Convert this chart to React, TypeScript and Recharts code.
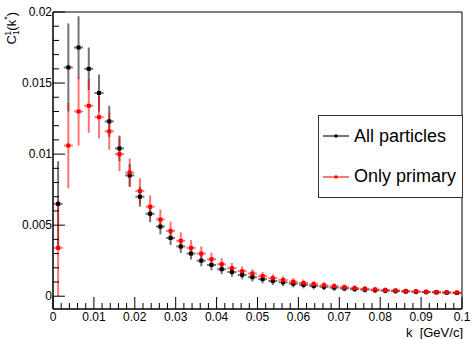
import React from "react";
import {
  ComposedChart,
  Scatter,
  ErrorBar,
  XAxis,
  YAxis,
  ReferenceArea,
  Legend,
} from "recharts";

// bin centres in k* [GeV/c]
const kCenters = [
  0.00125, 0.00375, 0.00625, 0.00875, 0.01125, 0.01375, 0.01625, 0.01875, 0.02125, 0.02375,
  0.02625, 0.02875, 0.03125, 0.03375, 0.03625, 0.03875, 0.04125, 0.04375, 0.04625, 0.04875,
  0.05125, 0.05375, 0.05625, 0.05875, 0.06125, 0.06375, 0.06625, 0.06875, 0.07125, 0.07375,
  0.07625, 0.07875, 0.08125, 0.08375, 0.08625, 0.08875, 0.09125, 0.09375, 0.09625, 0.09875,
];
const kHalfWidth = 0.0011;

const allValues = [
  0.0065, 0.0161, 0.0175, 0.016, 0.0143, 0.0123, 0.0104, 0.0085, 0.007, 0.0058,
  0.0049, 0.0041, 0.0035, 0.003, 0.0025, 0.0022, 0.0019, 0.0017, 0.0015, 0.00134,
  0.0012, 0.00107, 0.00098, 0.00088, 0.0008, 0.00072, 0.00066, 0.0006, 0.00055, 0.0005,
  0.00046, 0.00042, 0.00039, 0.00036, 0.00033, 0.00031, 0.00029, 0.00027, 0.00025, 0.00023,
];
const allErrors = [
  0.003, 0.0031, 0.0022, 0.0015, 0.0013, 0.0011, 0.0009, 0.0008, 0.0007, 0.0006,
  0.00055, 0.0005, 0.00045, 0.00042, 0.0004, 0.00037, 0.00035, 0.00033, 0.00031, 0.0003,
  0.00029, 0.00028, 0.00027, 0.00026, 0.00025, 0.00024, 0.00023, 0.00022, 0.00021, 0.0002,
  0.0002, 0.00019, 0.00019, 0.00018, 0.00018, 0.00017, 0.00017, 0.00016, 0.00016, 0.00015,
];

const primaryValues = [
  0.0034, 0.0106, 0.013, 0.0134, 0.0126, 0.0116, 0.01, 0.0087, 0.0074, 0.0063,
  0.0054, 0.0046, 0.0039, 0.0034, 0.003, 0.0026, 0.00225, 0.00197, 0.00176, 0.0016,
  0.00142, 0.00127, 0.00114, 0.00102, 0.00093, 0.00085, 0.00077, 0.0007, 0.00063, 0.00057,
  0.00052, 0.00047, 0.00043, 0.0004, 0.00036, 0.00034, 0.00031, 0.00029, 0.00027, 0.00026,
];
const primaryErrors = [
  0.0034, 0.003, 0.0024, 0.0019, 0.0015, 0.0013, 0.0012, 0.001, 0.0009, 0.0008,
  0.0007, 0.00065, 0.0006, 0.00055, 0.0005, 0.00046, 0.00042, 0.00038, 0.00034, 0.0003,
  0.00028, 0.00027, 0.00026, 0.00025, 0.00024, 0.00023, 0.00022, 0.00022, 0.00021, 0.0002,
  0.0002, 0.00019, 0.00019, 0.00018, 0.00018, 0.00017, 0.00017, 0.00016, 0.00016, 0.00015,
];

const xTicks = [
  0, 0.002, 0.004, 0.006, 0.008, 0.01, 0.012, 0.014, 0.016, 0.018, 0.02, 0.022, 0.024, 0.026,
  0.028, 0.03, 0.032, 0.034, 0.036, 0.038, 0.04, 0.042, 0.044, 0.046, 0.048, 0.05, 0.052,
  0.054, 0.056, 0.058, 0.06, 0.062, 0.064, 0.066, 0.068, 0.07, 0.072, 0.074, 0.076, 0.078,
  0.08, 0.082, 0.084, 0.086, 0.088, 0.09, 0.092, 0.094, 0.096, 0.098, 0.1,
];
const xLabels = ["0", "0.01", "0.02", "0.03", "0.04", "0.05", "0.06", "0.07", "0.08", "0.09", "0.1"];
const yTicks = [
  0, 0.001, 0.002, 0.003, 0.004, 0.005, 0.006, 0.007, 0.008, 0.009, 0.01, 0.011, 0.012,
  0.013, 0.014, 0.015, 0.016, 0.017, 0.018, 0.019, 0.02,
];
const yLabels = ["0", "0.005", "0.01", "0.015", "0.02"];

const allData = kCenters.map((k, i) => ({ k, y: allValues[i], ey: allErrors[i], ex: kHalfWidth }));
const primaryData = kCenters.map((k, i) => ({ k, y: primaryValues[i], ey: primaryErrors[i], ex: kHalfWidth }));

const FONT = "'Liberation Sans', Arial, Helvetica, sans-serif";
const BLACK_ERR = "rgba(0,0,0,0.55)";
const RED_ERR = "rgba(255,0,0,0.55)";

const XTick = (props: any) => {
  const { x, y, index } = props;
  const major = index % 5 === 0;
  return (
    <g>
      <line x1={x} y1={y} x2={x} y2={y - (major ? 12 : 6)} stroke="#000" />
      {major && (
        <text x={x} y={y + 12} textAnchor="middle" fontSize={12} fontFamily={FONT} fill="#000">
          {xLabels[index / 5]}
        </text>
      )}
    </g>
  );
};

const YTick = (props: any) => {
  const { x, y, index } = props;
  const major = index % 5 === 0;
  return (
    <g>
      <line x1={x} y1={y} x2={x + (major ? 12 : 6)} y2={y} stroke="#000" />
      {major && (
        <text x={x - 1} y={y + 4} textAnchor="end" fontSize={12} fontFamily={FONT} fill="#000">
          {yLabels[index / 5]}
        </text>
      )}
    </g>
  );
};

const square = (size: number, color: string) => (props: any) =>
  <rect x={props.cx - size / 2} y={props.cy - size / 2} width={size} height={size} fill={color} />;

const legendRows = [
  { name: "All particles", line: BLACK_ERR, dot: "#000" },
  { name: "Only primary", line: RED_ERR, dot: "#f00" },
];

const LegendBox = () => (
  <div
    style={{
      width: 145,
      height: 83,
      border: "1px solid #333",
      background: "#fff",
      fontFamily: FONT,
      fontSize: 18,
      display: "flex",
      flexDirection: "column",
      justifyContent: "space-around",
      boxSizing: "border-box",
    }}
  >
    {legendRows.map((r) => (
      <div key={r.name} style={{ display: "flex", alignItems: "center", height: 30 }}>
        <svg width={35} height={10} style={{ flexShrink: 0 }}>
          <line x1={4} y1={5} x2={30} y2={5} stroke={r.line} strokeWidth={2} />
          <rect x={15.5} y={3.5} width={3} height={3} fill={r.dot} />
        </svg>
        <span style={{ color: "#000", whiteSpace: "nowrap" }}>{r.name}</span>
      </div>
    ))}
  </div>
);

export default function App() {
  return (
    <div style={{ position: "absolute", left: 0, top: 0, background: "#fff" }}>
      <ComposedChart width={472} height={339} margin={{ top: 12, right: 10, bottom: 0, left: 0 }}>
        <XAxis
          dataKey="k"
          type="number"
          domain={[0, 0.1]}
          ticks={xTicks}
          interval={0}
          allowDataOverflow
          height={30}
          tickSize={0}
          tickMargin={0}
          tickLine={false}
          axisLine={{ stroke: "#000" }}
          tick={<XTick />}
          label={{
            content: (p: any) => (
              <text
                x={p.viewBox.x + p.viewBox.width + 1}
                y={p.viewBox.y + 28}
                textAnchor="end"
                fontSize={13}
                fontFamily={FONT}
                fill="#000"
                style={{ whiteSpace: "pre" }}
              >
                {"k  [GeV/c]"}
              </text>
            ),
          }}
        />
        <YAxis
          type="number"
          domain={[-0.0009, 0.02]}
          ticks={yTicks}
          interval={0}
          allowDataOverflow
          width={53}
          tickSize={0}
          tickMargin={0}
          tickLine={false}
          axisLine={{ stroke: "#000" }}
          tick={<YTick />}
          label={{
            content: () => (
              <text
                x={16}
                y={12}
                transform="rotate(-90 16 12)"
                textAnchor="end"
                fontSize={13}
                fontFamily={FONT}
                fill="#000"
              >
                C
                <tspan fontSize={9} dy={3}>1</tspan>
                <tspan fontSize={9} dx={-5} dy={-8}>1</tspan>
                <tspan dy={5}>(k</tspan>
                <tspan fontSize={9} dy={-6}>*</tspan>
                <tspan dy={6}>)</tspan>
              </text>
            ),
          }}
        />
        <ReferenceArea
          x1={0}
          x2={0.1}
          y1={-0.0009}
          y2={0.02}
          fill="none"
          stroke="#000"
          strokeWidth={1}
          ifOverflow="visible"
        />
        <Legend
          layout="horizontal"
          verticalAlign="middle"
          align="center"
          content={() => <LegendBox />}
          wrapperStyle={{ left: 318, top: 115, width: 145 }}
        />
        <Scatter
          name="All particles"
          data={allData}
          dataKey="y"
          fill="#000"
          shape={square(4, "#000")}
          isAnimationActive={false}
        >
          <ErrorBar dataKey="ey" direction="y" width={0} stroke={BLACK_ERR} strokeWidth={2} />
          <ErrorBar dataKey="ex" direction="x" width={0} stroke={BLACK_ERR} strokeWidth={2} />
        </Scatter>
        <Scatter
          name="Only primary"
          data={primaryData}
          dataKey="y"
          fill="#f00"
          shape={square(4, "#f00")}
          isAnimationActive={false}
        >
          <ErrorBar dataKey="ey" direction="y" width={0} stroke={RED_ERR} strokeWidth={2} />
          <ErrorBar dataKey="ex" direction="x" width={0} stroke={RED_ERR} strokeWidth={2} />
        </Scatter>
      </ComposedChart>
    </div>
  );
}
